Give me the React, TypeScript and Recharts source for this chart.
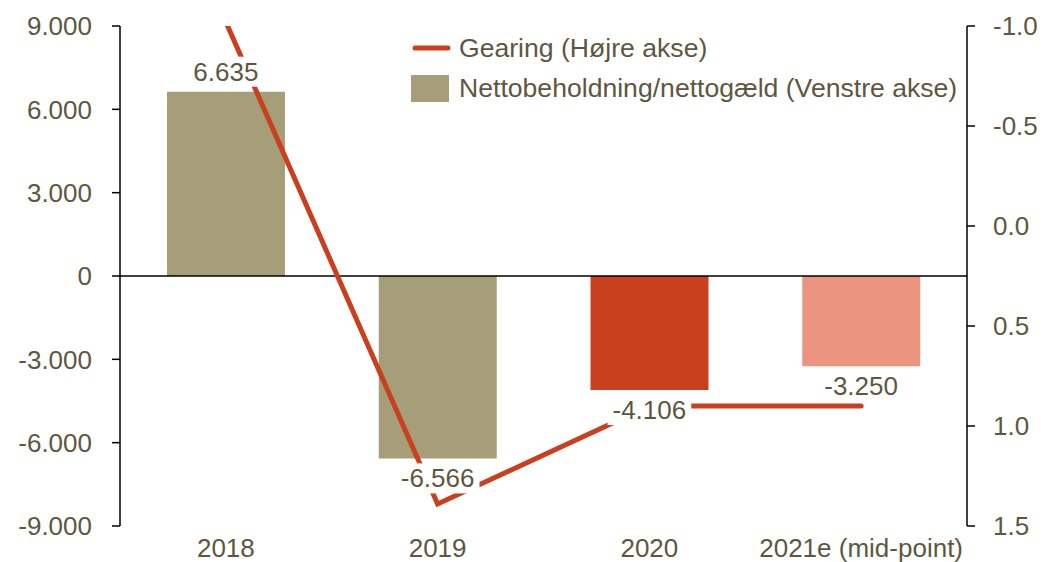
import React from 'react';
import {
  ComposedChart,
  Bar,
  Line,
  XAxis,
  YAxis,
  ReferenceLine,
  Cell,
  LabelList,
  Legend,
} from 'recharts';

const categories = ['2018', '2019', '2020', '2021e (mid-point)'];
const netPosition = [6635, -6566, -4106, -3250];
const gearing = [-1.02, 1.39, 0.9, 0.9];
const barColors = ['#A59E79', '#A59E79', '#C9401F', '#EB9580'];
const leftTicks = [-9000, -6000, -3000, 0, 3000, 6000, 9000];
const rightTicks = [-1, -0.5, 0, 0.5, 1, 1.5];
const seriesNames = ['Gearing (Højre akse)', 'Nettobeholdning/nettogæld (Venstre akse)'];

const FONT = '"Liberation Sans", Arial, Helvetica, sans-serif';
const TEXT = '#5E573F';
const RED = '#C9401F';
const OLIVE = '#A59E79';
const FS = 26;
const LEGEND_FS = 26.6;

const data = categories.map((c, i) => ({
  category: c,
  net: netPosition[i],
  gearing: gearing[i],
}));

const fmtThousands = (v: number) => {
  const s = Math.abs(Math.round(v)).toString().replace(/\B(?=(\d{3})+(?!\d))/g, '.');
  return (v < 0 ? '-' : '') + s;
};

const textWidth = (s: string) => {
  let w = 0;
  for (const ch of s) {
    if (ch === '.') w += 0.278;
    else if (ch === '-') w += 0.333;
    else w += 0.556;
  }
  return w * FS;
};

const ValueLabel = (props: any) => {
  const { x, y, value } = props;
  if (value == null || x == null || y == null) return null;
  const cy = value >= 0 ? y - 20 : y + 20;
  const txt = fmtThousands(value);
  const w = textWidth(txt) + 10;
  return (
    <g>
      <rect x={x - w / 2} y={cy - 15} width={w} height={30} fill="#ffffff" />
      <text
        x={x}
        y={cy}
        textAnchor="middle"
        dominantBaseline="central"
        fontSize={FS}
        fill={TEXT}
        fontFamily={FONT}
      >
        {txt}
      </text>
    </g>
  );
};

const LegendContent = () => (
  <div style={{ fontFamily: FONT, fontSize: LEGEND_FS, color: TEXT, lineHeight: '30px' }}>
    <div style={{ display: 'flex', alignItems: 'center', height: 40 }}>
      <svg width={48} height={10} style={{ display: 'block' }}>
        <line x1={4} y1={5} x2={37} y2={5} stroke={RED} strokeWidth={5} strokeLinecap="round" />
      </svg>
      <span style={{ whiteSpace: 'nowrap' }}>{seriesNames[0]}</span>
    </div>
    <div style={{ display: 'flex', alignItems: 'center', height: 40 }}>
      <svg width={48} height={27} style={{ display: 'block' }}>
        <rect x={0} y={0} width={38} height={27} fill={OLIVE} />
      </svg>
      <span style={{ whiteSpace: 'nowrap' }}>{seriesNames[1]}</span>
    </div>
  </div>
);

export default function App() {
  return (
    <div style={{ position: 'absolute', left: 0, top: 0, width: 1043, height: 562, background: '#fff' }}>
      <ComposedChart
        width={1043}
        height={562}
        data={data}
        margin={{ top: 26, right: 0, left: 0, bottom: 0 }}
      >
        <XAxis
          dataKey="category"
          xAxisId="x"
          axisLine={false}
          tickLine={false}
          tickSize={0}
          tickMargin={13}
          height={36}
          interval={0}
          tick={{ fill: TEXT, fontSize: FS, fontFamily: FONT }}
        />
        <YAxis
          yAxisId="left"
          orientation="left"
          width={120}
          domain={[-9000, 9000]}
          ticks={leftTicks}
          interval={0}
          tickFormatter={fmtThousands}
          axisLine={{ stroke: '#000', strokeWidth: 1.5 }}
          tickLine={{ stroke: '#000', strokeWidth: 1.5 }}
          tickSize={8}
          tickMargin={20}
          tick={{ fill: TEXT, fontSize: FS, fontFamily: FONT }}
        />
        <YAxis
          yAxisId="right"
          orientation="right"
          width={76}
          domain={[-1, 1.5]}
          reversed
          allowDataOverflow
          ticks={rightTicks}
          interval={0}
          tickFormatter={(v: number) => v.toFixed(1)}
          axisLine={{ stroke: '#000', strokeWidth: 1.5 }}
          tickLine={{ stroke: '#000', strokeWidth: 1.5 }}
          tickSize={8}
          tickMargin={18}
          tick={{ fill: TEXT, fontSize: FS, fontFamily: FONT }}
        />
        <Legend
          layout="vertical"
          align="center"
          verticalAlign="middle"
          content={LegendContent}
          wrapperStyle={{ position: 'absolute', left: 411, top: 28, width: 620, height: 90 }}
        />
        <Bar
          dataKey="net"
          xAxisId="x"
          yAxisId="left"
          barSize={118}
          isAnimationActive={false}
        >
          {data.map((d, i) => (
            <Cell key={d.category} fill={barColors[i]} />
          ))}
        </Bar>
        <ReferenceLine xAxisId="x" yAxisId="left" y={0} stroke="#000" strokeWidth={1.5} />
        <Line
          dataKey="gearing"
          xAxisId="x"
          yAxisId="right"
          stroke={RED}
          strokeWidth={5}
          strokeLinejoin="miter"
          strokeLinecap="round"
          dot={false}
          activeDot={false}
          type="linear"
          isAnimationActive={false}
        />
        <Line
          dataKey="net"
          xAxisId="x"
          yAxisId="left"
          stroke="none"
          strokeWidth={0}
          dot={false}
          activeDot={false}
          legendType="none"
          isAnimationActive={false}
        >
          <LabelList dataKey="net" content={ValueLabel} />
        </Line>
      </ComposedChart>
    </div>
  );
}
